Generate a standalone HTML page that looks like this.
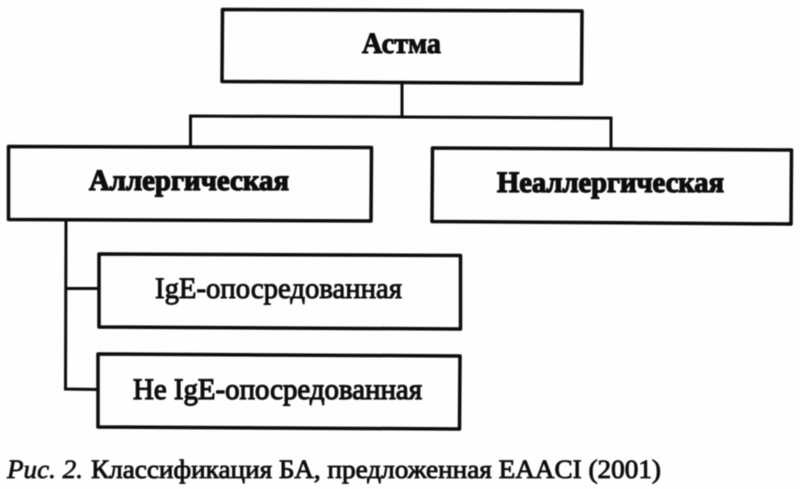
<!DOCTYPE html>
<html><head><meta charset="utf-8">
<style>
html,body{margin:0;padding:0;background:#fefefe;width:800px;height:489px;overflow:hidden}
svg{display:block}
text{font-family:"Liberation Serif","Noto Serif CJK SC",serif;fill:#080808}
</style></head>
<body>
<svg width="800" height="489" viewBox="0 0 800 489" xmlns="http://www.w3.org/2000/svg">
<defs><filter id="b" x="-5%" y="-5%" width="110%" height="110%"><feGaussianBlur stdDeviation="0.45"/></filter></defs>
<g filter="url(#b)">
<g fill="none" stroke="#0c0c0c" stroke-width="3.5" stroke-linejoin="round">
<path d="M222.5 9.5 L582 11 L581.5 83.5 L222 81.5 Z"/>
<path d="M8.5 146.5 L371.5 147.5 L371 221 L8.5 219.5 Z"/>
<path d="M432.5 148 L791.5 150 L791 224 L432 221.5 Z"/>
<path d="M99 254 L460.5 255.5 L460.5 329 L99 327 Z"/>
<path d="M98 354 L460 356 L459.5 429 L98 427 Z"/>
</g>
<g fill="none" stroke="#0c0c0c" stroke-width="3">
<path d="M402 83 L402 116.5"/>
<path d="M190.5 146 L190.5 116 L611 118 L611 148"/>
<path d="M66 220 L65.5 389 L98 389.5"/>
<path d="M66 288.5 L99 288.5"/>
</g>
<g stroke="#080808">
<text x="362" y="53" font-size="30" font-weight="700" stroke-width="1" textLength="79" lengthAdjust="spacingAndGlyphs">Астма</text>
<text x="89" y="190" font-size="30" font-weight="700" stroke-width="1.3" textLength="200" lengthAdjust="spacingAndGlyphs">Аллергическая</text>
<text x="497" y="192" font-size="30" font-weight="700" stroke-width="1.3" textLength="227" lengthAdjust="spacingAndGlyphs">Неаллергическая</text>
<text x="155" y="298" font-size="30" font-weight="400" stroke-width=".95" textLength="247" lengthAdjust="spacingAndGlyphs">IgE-опосредованная</text>
<text x="133" y="399" font-size="30" font-weight="400" stroke-width="1.15" textLength="289" lengthAdjust="spacingAndGlyphs">Не IgE-опосредованная</text>
<text x="7" y="478" font-size="26" font-style="italic" stroke-width=".65" textLength="76" lengthAdjust="spacingAndGlyphs">Рис. 2.</text>
<text x="91" y="478" font-size="26" stroke-width=".85" textLength="570" lengthAdjust="spacingAndGlyphs">Классификация БА, предложенная EAACI (2001)</text>
</g>
</g>
</svg>
</body></html>
